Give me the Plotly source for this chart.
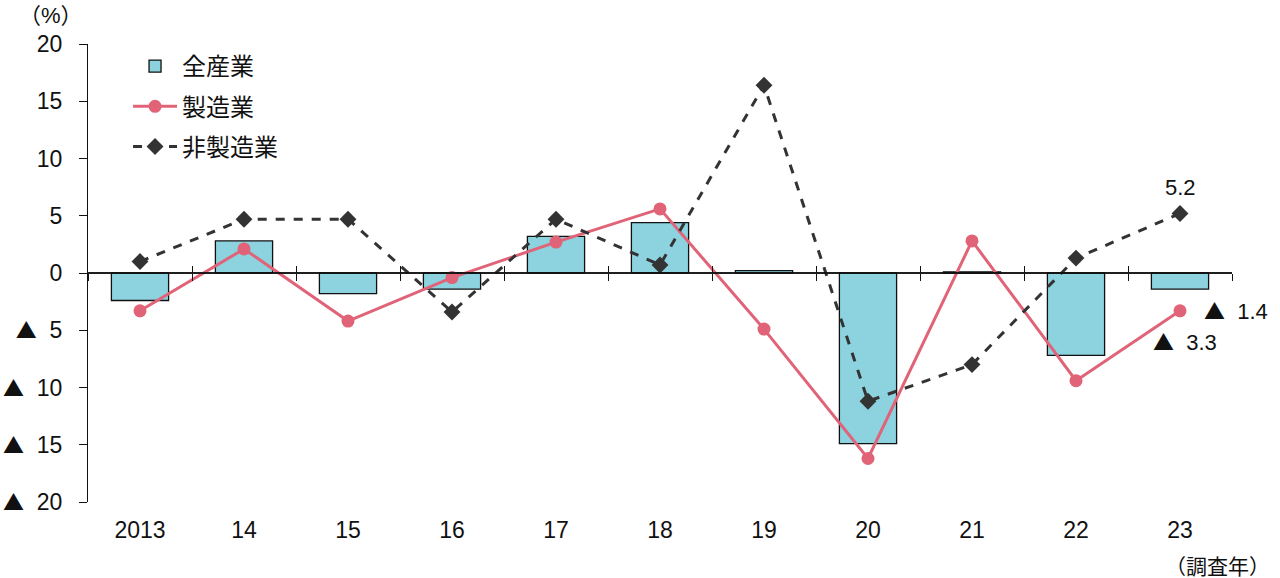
import plotly.graph_objects as go

years = ["2013", "14", "15", "16", "17", "18", "19", "20", "21", "22", "23"]
all_ind = [-2.4, 2.8, -1.8, -1.4, 3.2, 4.4, 0.2, -14.9, 0.1, -7.2, -1.4]
manuf = [-3.3, 2.1, -4.2, -0.4, 2.7, 5.6, -4.9, -16.2, 2.8, -9.4, -3.3]
nonmanuf = [1.0, 4.7, 4.7, -3.4, 4.7, 0.7, 16.4, -11.2, -8.0, 1.3, 5.2]
ytick_vals = [20, 15, 10, 5, 0, -5, -10, -15, -20]
ytick_labels = ["20", "15", "10", "5", "0", "▲ 5", "▲ 10", "▲ 15", "▲ 20"]

FONT = "Liberation Sans, Noto Sans CJK JP, sans-serif"
TRI = '<span style="font-family:Noto Sans CJK JP;font-size:21px">▲</span>&nbsp;'


def tri(s):
    return s.replace("▲", TRI)


xi = list(range(len(years)))
bounds = [i - 0.5 for i in range(len(years) + 1)]

fig = go.Figure()
fig.add_trace(go.Bar(x=xi, y=all_ind, name="全産業", width=0.55, legendgroup="a",
                     marker=dict(color="#8cd3df", line=dict(color="#111111", width=1.3))))
fig.add_trace(go.Scatter(x=xi, y=manuf, name="製造業", mode="lines+markers", legendgroup="b",
                         line=dict(color="#e06377", width=3),
                         marker=dict(symbol="circle", size=13, color="#e06377")))
fig.add_trace(go.Scatter(x=xi, y=nonmanuf, name="非製造業", mode="lines+markers", legendgroup="c",
                         line=dict(color="#333333", width=3, dash="dash"),
                         marker=dict(symbol="diamond", size=13, color="#333333")))

# zero line carried by two overlay axes (ticks crossing the line)
for ax in ("x2", "x3"):
    fig.add_trace(go.Scatter(x=[bounds[0], bounds[-1]], y=[0, 0], xaxis=ax, mode="lines",
                             line=dict(color="#111111", width=1.3), showlegend=False,
                             hoverinfo="skip"))

n = len(years)
common_zero = dict(overlaying="x", anchor="free", position=0.5, range=[-0.5, n - 0.5],
                   tickvals=bounds, ticklen=7, tickcolor="#111111", tickwidth=1.3,
                   showticklabels=False, showline=False, showgrid=False, zeroline=False,
                   automargin=False)
fig.update_layout(
    width=1280, height=578,
    margin=dict(l=88, r=48, t=44, b=76),
    plot_bgcolor="white", paper_bgcolor="white",
    font=dict(family=FONT, size=23, color="#111111"),
    barmode="relative",
    showlegend=True,
    legend=dict(x=0.035, y=1.0, xanchor="left", yanchor="top",
                font=dict(size=24), bgcolor="rgba(0,0,0,0)",
                itemwidth=44, tracegroupgap=6),
    xaxis=dict(range=[-0.5, n - 0.5], tickvals=xi, ticktext=years,
               showline=False, ticks="", showgrid=False, zeroline=False,
               ticklabelstandoff=12, tickfont=dict(size=23), automargin=False),
    xaxis2=dict(ticks="outside", **common_zero),
    xaxis3=dict(ticks="inside", **common_zero),
    yaxis=dict(range=[-20, 20], tickvals=ytick_vals,
               ticktext=[tri(t) for t in ytick_labels],
               showline=True, linecolor="#111111", linewidth=1.3,
               ticks="outside", ticklen=8, tickcolor="#111111", tickwidth=1.3,
               showgrid=False, zeroline=False, ticklabelstandoff=12,
               tickfont=dict(size=23), automargin=False),
)

last = n - 1
fig.add_annotation(x=last, y=nonmanuf[last], text="5.2", showarrow=False,
                   yshift=26, font=dict(size=22))
fig.add_annotation(x=last, y=all_ind[last], text=tri("▲ 1.4"), showarrow=False,
                   xanchor="left", xshift=22, yshift=-21, font=dict(size=22))
fig.add_annotation(x=last, y=manuf[last], text=tri("▲ 3.3"), showarrow=False,
                   xanchor="left", xshift=-29, yshift=-30, font=dict(size=22))
fig.add_annotation(xref="paper", yref="paper", x=-0.003, y=1.03, text="（%）",
                   showarrow=False, xanchor="right", yanchor="bottom", font=dict(size=22))
fig.add_annotation(xref="paper", yref="paper", x=1.035, y=-0.112, text="（調査年）",
                   showarrow=False, xanchor="right", yanchor="top", font=dict(size=21))

fig.write_html("out.html")
